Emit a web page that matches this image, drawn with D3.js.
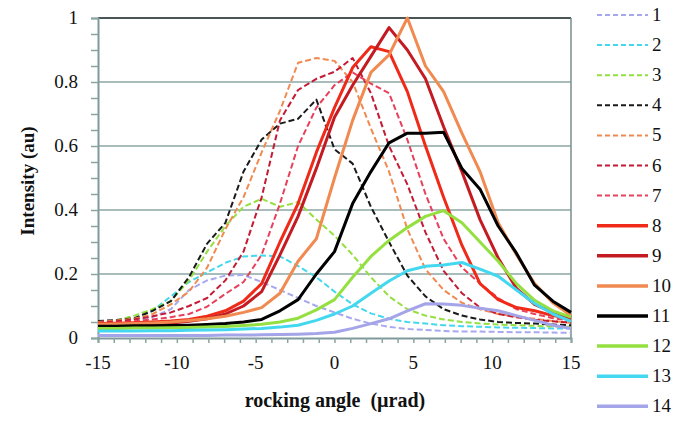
<!DOCTYPE html>
<html>
<head>
<meta charset="utf-8">
<script src="https://cdn.jsdelivr.net/npm/d3@7/dist/d3.min.js"></script>
<style>
  html, body { margin: 0; padding: 0; background: #fff; }
  svg { display: block; }
</style>
</head>
<body>
<svg id="chart" width="692" height="424"></svg>
<script>
// rocking angle positions (µrad)
const angles = [-15, -13.85, -12.69, -11.54, -10.38, -9.23, -8.08, -6.92, -5.77, -4.62, -3.46, -2.31, -1.15, 0,
  1.15, 2.31, 3.46, 4.62, 5.77, 6.92, 8.08, 9.23, 10.38, 11.54, 12.69, 13.85, 15];

const seriesNames = ["1","2","3","4","5","6","7","8","9","10","11","12","13","14"];

const s1 = [0.040,0.045,0.050,0.065,0.090,0.150,0.180,0.195,0.197,0.175,0.150,0.125,0.100,0.080,0.060,0.045,0.035,0.028,0.025,0.022,0.020,0.020,0.019,0.018,0.018,0.017,0.016];
const s2 = [0.045,0.050,0.060,0.085,0.130,0.175,0.205,0.235,0.255,0.258,0.255,0.225,0.190,0.145,0.105,0.077,0.060,0.050,0.045,0.040,0.037,0.035,0.033,0.032,0.031,0.030,0.030];
const s3 = [0.048,0.055,0.070,0.090,0.115,0.180,0.270,0.350,0.410,0.435,0.410,0.425,0.370,0.320,0.260,0.190,0.130,0.090,0.070,0.058,0.050,0.045,0.042,0.040,0.038,0.036,0.035];
const s4 = [0.053,0.056,0.062,0.085,0.115,0.190,0.295,0.360,0.520,0.620,0.670,0.685,0.745,0.590,0.545,0.410,0.300,0.195,0.130,0.090,0.070,0.058,0.050,0.047,0.045,0.042,0.040];
const s5 = [0.050,0.055,0.060,0.075,0.105,0.145,0.220,0.340,0.440,0.580,0.710,0.860,0.875,0.866,0.800,0.655,0.520,0.340,0.215,0.150,0.110,0.090,0.075,0.067,0.060,0.053,0.047];
const s6 = [0.048,0.052,0.058,0.068,0.080,0.100,0.125,0.180,0.270,0.440,0.680,0.775,0.810,0.832,0.875,0.765,0.600,0.480,0.330,0.210,0.140,0.095,0.075,0.065,0.057,0.052,0.048];
const s7 = [0.045,0.048,0.052,0.058,0.065,0.075,0.098,0.138,0.175,0.260,0.420,0.600,0.720,0.790,0.830,0.795,0.765,0.620,0.450,0.310,0.220,0.170,0.125,0.090,0.075,0.062,0.055];
const s8 = [0.045,0.046,0.048,0.050,0.053,0.058,0.068,0.085,0.115,0.170,0.300,0.420,0.580,0.720,0.845,0.910,0.895,0.770,0.600,0.440,0.290,0.170,0.120,0.095,0.085,0.070,0.060];
const s9 = [0.040,0.041,0.042,0.044,0.047,0.052,0.060,0.075,0.100,0.145,0.260,0.380,0.530,0.690,0.790,0.880,0.970,0.900,0.810,0.660,0.520,0.370,0.250,0.155,0.105,0.080,0.065];
const s10 = [0.043,0.044,0.045,0.047,0.050,0.055,0.060,0.068,0.080,0.095,0.140,0.240,0.310,0.500,0.680,0.830,0.885,1.000,0.850,0.770,0.640,0.520,0.360,0.260,0.170,0.110,0.070];
const s11 = [0.037,0.037,0.038,0.038,0.039,0.040,0.042,0.045,0.050,0.058,0.085,0.120,0.200,0.270,0.420,0.520,0.610,0.640,0.640,0.643,0.530,0.465,0.350,0.265,0.165,0.115,0.080];
const s12 = [0.030,0.030,0.031,0.031,0.032,0.033,0.034,0.036,0.039,0.043,0.050,0.062,0.088,0.120,0.190,0.255,0.305,0.345,0.380,0.398,0.360,0.300,0.240,0.170,0.118,0.085,0.065];
const s13 = [0.022,0.022,0.022,0.023,0.023,0.024,0.025,0.026,0.028,0.030,0.034,0.040,0.055,0.075,0.100,0.140,0.178,0.210,0.224,0.228,0.236,0.215,0.193,0.150,0.108,0.075,0.052];
const s14 = [0.008,0.008,0.008,0.008,0.008,0.008,0.008,0.009,0.009,0.010,0.011,0.012,0.014,0.018,0.030,0.045,0.060,0.085,0.107,0.106,0.102,0.093,0.085,0.070,0.055,0.040,0.030];

const seriesValues = [s1,s2,s3,s4,s5,s6,s7,s8,s9,s10,s11,s12,s13,s14];

const xTickValues = [-15, -10, -5, 0, 5, 10, 15];
const yTickValues = [0, 0.2, 0.4, 0.6, 0.8, 1];

const colors = ["#a8a8ee","#44d8ee","#94e040","#1a1a1a","#f08a50","#c41a34","#e8405a",
                "#f02a18","#c41a22","#f08a50","#000000","#94e040","#44d8f0","#a4a4e8"];
const dashed = [true,true,true,true,true,true,true,false,false,false,false,false,false,false];

const svg = d3.select("#chart");
const L = 98, R = 571, T = 18, B = 338;
const x = d3.scaleLinear().domain([-15, 15]).range([L, R]);
const y = d3.scaleLinear().domain([0, 1]).range([B, T]);
const serif = "'Liberation Serif', 'Times New Roman', serif";

// grid lines
svg.append("g").selectAll("line").data(yTickValues.filter(v => v > 0 && v < 1)).join("line")
  .attr("x1", L).attr("x2", R).attr("y1", d => y(d)).attr("y2", d => y(d))
  .attr("stroke", "#a9bcbc").attr("stroke-width", 2);

// top & right border
svg.append("line").attr("x1", L).attr("x2", R).attr("y1", T).attr("y2", T)
  .attr("stroke", "#4a5656").attr("stroke-width", 2);
svg.append("line").attr("x1", R).attr("x2", R).attr("y1", T).attr("y2", B)
  .attr("stroke", "#7a8c8c").attr("stroke-width", 1.5);

// y axis
const yMinor = d3.range(0, 21).map(i => i / 20);
const yAxis = svg.append("g").attr("transform", `translate(${L},0)`)
  .call(d3.axisLeft(y).tickValues(yMinor).tickSize(7).tickFormat(""));
yAxis.select(".domain").attr("stroke", "#7f9a9a").attr("stroke-width", 2);
yAxis.selectAll(".tick line").attr("stroke", "#8aa4a4").attr("stroke-width", 1.5);

svg.append("g").selectAll("text").data(yTickValues).join("text")
  .attr("x", 78).attr("y", d => y(d) + 6)
  .attr("text-anchor", "end")
  .style("font-family", serif).style("font-size", "19px").attr("fill", "#111")
  .text(d => d3.format("")(d));

// x axis
const xMinor = d3.range(-15, 16);
const xAxis = svg.append("g").attr("transform", `translate(0,${B})`)
  .call(d3.axisBottom(x).tickValues(xMinor).tickSize(5).tickFormat(""));
xAxis.select(".domain").attr("stroke", "#7f9a9a").attr("stroke-width", 2);
xAxis.selectAll(".tick line").attr("stroke", "#8aa4a4").attr("stroke-width", 1.5);

svg.append("g").selectAll("text").data(xTickValues).join("text")
  .attr("x", d => x(d)).attr("y", 369)
  .attr("text-anchor", "middle")
  .style("font-family", serif).style("font-size", "19px").attr("fill", "#111")
  .text(d => d);

// axis titles
svg.append("text").attr("x", 335).attr("y", 407).attr("text-anchor", "middle")
  .style("font-family", serif).style("font-size", "20px").style("font-weight", "bold")
  .attr("fill", "#111").attr("xml:space", "preserve")
  .text("rocking angle  (\u00b5rad)");
svg.append("text").attr("transform", "translate(34,181) rotate(-90)").attr("text-anchor", "middle")
  .style("font-family", serif).style("font-size", "19px").style("font-weight", "bold")
  .attr("fill", "#111").text("Intensity (au)");

// lines
const line = d3.line().x((d, i) => x(angles[i])).y(d => y(d));
const clip = svg.append("clipPath").attr("id", "pc").append("rect")
  .attr("x", L).attr("y", T - 2).attr("width", R - L).attr("height", B - T + 2);
svg.append("g").selectAll("path").data(seriesValues).join("path")
  .attr("d", d => line(d))
  .attr("fill", "none")
  .attr("stroke", (d, i) => colors[i])
  .attr("stroke-width", (d, i) => dashed[i] ? 2 : 3)
  .attr("stroke-dasharray", (d, i) => dashed[i] ? "6,3" : null)
  .attr("stroke-linejoin", "round");

// legend
const lg = svg.append("g");
seriesNames.forEach((name, i) => {
  const yy = 15 + i * 30.1;
  lg.append("line").attr("x1", 597).attr("x2", 648).attr("y1", yy).attr("y2", yy)
    .attr("stroke", colors[i]).attr("stroke-width", dashed[i] ? 2 : 3.5)
    .attr("stroke-dasharray", dashed[i] ? "5,3" : null);
  lg.append("text").attr("x", 652).attr("y", yy + 6)
    .style("font-family", serif).style("font-size", "19px").attr("fill", "#111")
    .text(name);
});
</script>
</body>
</html>
